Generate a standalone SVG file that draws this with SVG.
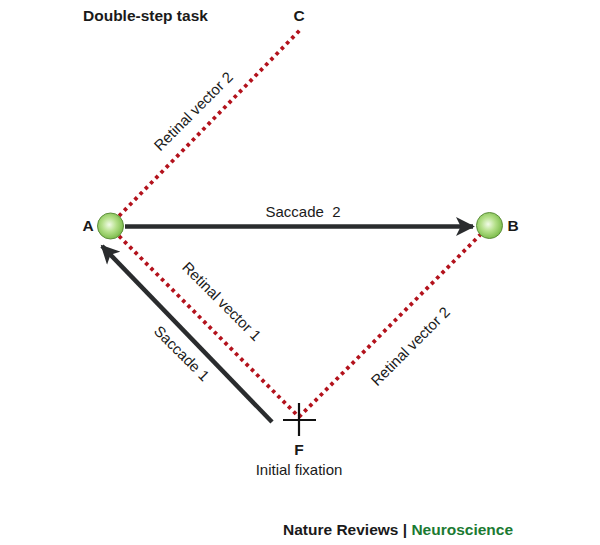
<svg xmlns="http://www.w3.org/2000/svg" width="600" height="545" viewBox="0 0 600 545">
<style>
.t{font-family:"Liberation Sans",Arial,sans-serif;font-size:15px;fill:#1a1a1a}
.b{font-weight:bold;font-size:15.5px}
.dot{stroke:#b3121c;stroke-width:3.8;stroke-dasharray:3.5 4;fill:none}
.arr{stroke:#2a2c2e;stroke-width:4.5;fill:none}
</style>
<defs>
<radialGradient id="g" cx="0.45" cy="0.45" r="0.55">
<stop offset="0" stop-color="#f2fbe8"/>
<stop offset="0.5" stop-color="#b5e08a"/>
<stop offset="1" stop-color="#7dbd4c"/>
</radialGradient>
<marker id="ah" viewBox="0 0 10 10" refX="9" refY="5" markerWidth="4.4" markerHeight="4.2" orient="auto" markerUnits="strokeWidth">
<path d="M0,0 L10,5 L0,10 L2.5,5 Z" fill="#2a2c2e"/>
</marker>
</defs>
<rect width="600" height="545" fill="#fff"/>
<text class="t b" x="83" y="21">Double-step task</text>
<g id="connectors">
<line class="dot" x1="119" y1="216" x2="300" y2="30"/>
<line class="dot" x1="119" y1="236" x2="299" y2="417"/>
<line class="dot" x1="299" y1="417" x2="481" y2="234"/>
<line class="arr" x1="125" y1="226.5" x2="473" y2="226.5" marker-end="url(#ah)"/>
<line class="arr" x1="272" y1="422" x2="102" y2="246" marker-end="url(#ah)"/>
<text class="t" x="303" y="217" text-anchor="middle" xml:space="preserve">Saccade  2</text>
<text class="t" transform="translate(197,115) rotate(-45)" text-anchor="middle">Retinal vector 2</text>
<text class="t" transform="translate(218,305) rotate(45)" text-anchor="middle">Retinal vector 1</text>
<text class="t" transform="translate(178,357) rotate(45)" text-anchor="middle">Saccade 1</text>
<text class="t" transform="translate(414,350) rotate(-45)" text-anchor="middle">Retinal vector 2</text>
</g>
<g id="nodeC"><text class="t b" x="299" y="21" text-anchor="middle">C</text></g>
<g id="nodeA">
<circle cx="110.5" cy="226" r="13" fill="url(#g)" stroke="#5e8f3c" stroke-width="1"/>
<text class="t b" x="88" y="231" text-anchor="middle">A</text>
</g>
<g id="nodeB">
<circle cx="489.5" cy="225.5" r="13" fill="url(#g)" stroke="#5e8f3c" stroke-width="1"/>
<text class="t b" x="513" y="231" text-anchor="middle">B</text>
</g>
<g id="nodeF">
<line x1="283" y1="420" x2="316" y2="420" stroke="#111" stroke-width="2.2"/>
<line x1="299" y1="403" x2="299" y2="436" stroke="#111" stroke-width="2.2"/>
<text class="t b" x="299" y="455" text-anchor="middle">F</text>
<text class="t" x="299" y="475" text-anchor="middle">Initial fixation</text>
</g>
<text class="t b" x="283" y="535">Nature Reviews | <tspan fill="#1b7a32">Neuroscience</tspan></text>
</svg>
